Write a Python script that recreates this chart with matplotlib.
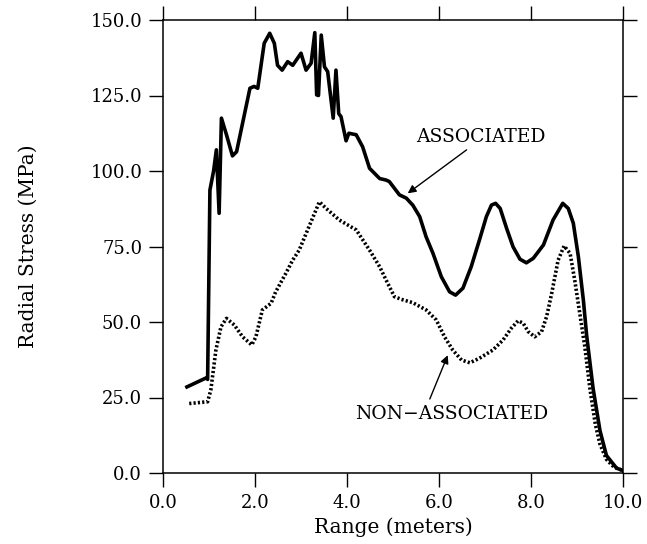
import matplotlib
matplotlib.use("Agg")
import matplotlib.pyplot as plt

# Associated (solid) curve
assoc_x = [0.52, 0.94, 0.97, 1.02, 1.10, 1.16, 1.22, 1.27, 1.38, 1.51, 1.60, 1.76, 1.89, 1.98, 2.06,
           2.20, 2.32, 2.42, 2.49, 2.59, 2.71, 2.82, 3.00, 3.11, 3.22, 3.30, 3.34, 3.38, 3.44, 3.51,
           3.58, 3.70, 3.76, 3.82, 3.87, 3.98, 4.04, 4.20, 4.34, 4.49, 4.71, 4.85, 4.92, 5.14, 5.29,
           5.43, 5.58, 5.72, 5.87, 6.05, 6.23, 6.36, 6.52, 6.70, 6.88, 7.03, 7.14, 7.23, 7.33, 7.47,
           7.61, 7.76, 7.90, 8.05, 8.27, 8.48, 8.69, 8.81, 8.92, 9.03, 9.14, 9.21, 9.35, 9.50, 9.64,
           9.86, 10.0]
assoc_y = [28.5, 31.5, 31.0, 93.7, 100.0, 107.0, 86.0, 117.5, 112.0, 105.0, 106.4, 118.0, 127.4, 128.0, 127.4,
           142.3, 145.6, 142.3, 135.0, 133.4, 136.2, 135.0, 139.0, 133.4, 135.7, 145.8, 125.2, 125.0, 145.0, 134.5,
           132.9, 117.5, 133.4, 119.0, 118.0, 110.0, 112.5, 112.0, 108.0, 100.9, 97.5, 97.0, 96.5, 92.1, 91.0,
           88.7, 84.9, 78.2, 72.7, 65.0, 60.0, 58.9, 61.2, 68.3, 77.2, 84.9, 88.7, 89.3, 87.6, 81.0,
           74.9, 70.8, 69.6, 71.1, 75.5, 83.8, 89.3, 87.6, 82.7, 71.6, 57.0, 45.5, 28.0, 14.0, 5.8,
           1.6, 0.8]

# Non-associated (dotted) curve
nonassoc_x = [0.57, 0.97, 1.04, 1.15, 1.26, 1.38, 1.55, 1.73, 1.93, 2.02, 2.16, 2.35, 2.45, 2.67, 2.82,
              2.96, 3.40, 3.54, 3.83, 4.20, 4.49, 4.71, 4.85, 5.03, 5.18, 5.43, 5.72, 5.94, 6.12, 6.30,
              6.49, 6.67, 6.88, 7.17, 7.39, 7.57, 7.72, 7.83, 7.94, 8.08, 8.23, 8.34, 8.45, 8.59, 8.72,
              8.85, 8.95, 9.06, 9.17, 9.28, 9.40, 9.50, 9.64, 9.80, 10.0]
nonassoc_y = [23.0, 23.6, 27.5, 40.7, 48.4, 51.2, 49.0, 45.1, 42.4, 45.1, 54.0, 56.2, 60.0, 66.1, 70.5,
              73.8, 89.8, 87.7, 83.8, 80.5, 73.8, 68.3, 63.9, 58.4, 57.5, 56.4, 54.0, 50.7, 45.1, 40.7,
              37.4, 36.5, 38.0, 40.7, 44.0, 47.9, 50.4, 49.6, 46.8, 45.1, 46.8, 51.8, 59.5, 70.5, 75.2,
              72.7, 63.9, 52.9, 41.8, 28.0, 16.0, 9.5, 4.5, 2.0, 0.8]

x_ticks = [0, 2, 4, 6, 8, 10]
x_tick_labels = ["0.0", "2.0", "4.0", "6.0", "8.0", "10.0"]
y_ticks = [0, 25, 50, 75, 100, 125, 150]
y_tick_labels = ["0.0", "25.0", "50.0", "75.0", "100.0", "125.0", "150.0"]

plt.rcParams['font.family'] = ['DejaVu Serif']

fig = plt.figure(figsize=(6.47, 5.44), dpi=100)
ax = fig.add_axes([163 / 647, 1 - 473 / 544, (623 - 163) / 647, (473 - 20) / 544])

ax.plot(assoc_x, assoc_y, color='black', lw=2.6, solid_joinstyle='round')
ax.plot(nonassoc_x, nonassoc_y, color='black', lw=2.6, linestyle=(0, (0.6, 0.6)))

ax.set_xlim(0, 10)
ax.set_ylim(0, 150)
ax.set_xticks(x_ticks)
ax.set_xticklabels(x_tick_labels)
ax.set_yticks(y_ticks)
ax.set_yticklabels(y_tick_labels)
ax.tick_params(direction='out', length=10, width=1, labelsize=13, pad=5,
               top=True, right=True, labeltop=False, labelright=False)
for s in ax.spines.values():
    s.set_linewidth(1.1)

ax.set_xlabel("Range (meters)", fontsize=14.5, labelpad=4)
ax.set_ylabel("Radial Stress (MPa)", fontsize=14.5, labelpad=38)

ax.text(6.91, 111.3, "ASSOCIATED", fontsize=13.5, ha='center', va='center')
ax.annotate("", xy=(5.32, 92.6), xytext=(6.60, 107),
            arrowprops=dict(arrowstyle='-|>', color='black', lw=1, shrinkA=0, shrinkB=0,
                            mutation_scale=12))
ax.text(6.27, 19.5, "NON\u2212ASSOCIATED", fontsize=13.5, ha='center', va='center')
ax.annotate("", xy=(6.19, 39), xytext=(5.80, 24.5),
            arrowprops=dict(arrowstyle='-|>', color='black', lw=1, shrinkA=0, shrinkB=0,
                            mutation_scale=12))

fig.savefig("out.png", dpi=100)
